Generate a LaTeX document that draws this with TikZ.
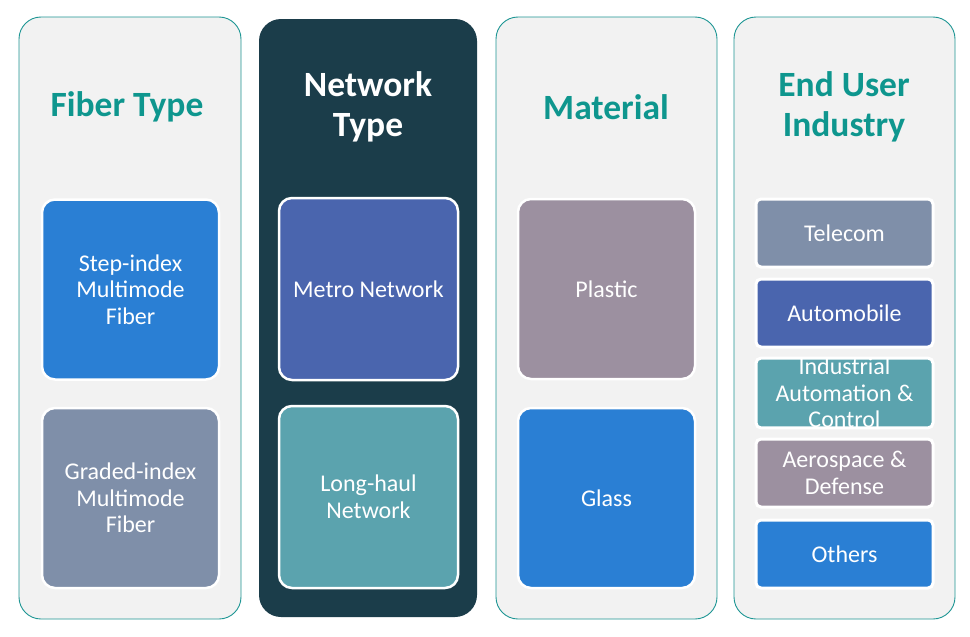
\documentclass[tikz,border=0pt]{standalone}
\usepackage{fontspec}
\setmainfont{Carlito}
\definecolor{panelbg}{RGB}{242,242,242}
\definecolor{panelline}{RGB}{30,150,148}
\definecolor{darkpanel}{RGB}{27,61,74}
\definecolor{titleteal}{RGB}{14,150,142}
\definecolor{cblue}{RGB}{42,127,212}
\definecolor{cgrey}{RGB}{127,143,169}
\definecolor{cindigo}{RGB}{74,101,174}
\definecolor{cteal}{RGB}{91,163,174}
\definecolor{cmauve}{RGB}{156,144,160}
\begin{document}
\begin{tikzpicture}[x=1pt,y=-1pt,
  panel/.style={draw=panelline, line width=0.9pt, fill=panelbg, rounded corners=22pt},
  darkp/.style={fill=darkpanel, rounded corners=22pt},
  title/.style={font=\fontsize{35.5}{39.5}\selectfont\bfseries, align=center, text=titleteal},
  box/.style={draw=white, line width=2.5pt, rounded corners=13pt, text=white, align=center,
    font=\fontsize{24}{26.5}\selectfont, inner sep=0pt, minimum width=177pt},
  bigbox/.style={box, minimum height=180pt},
  smallbox/.style={box, minimum height=68pt, rounded corners=5pt, line width=3pt}
]
\useasboundingbox (0,0) rectangle (970,637);
\fill[white] (0,0) rectangle (970,637);
% panels
\draw[panel] (19,17) rectangle (241,619);
\fill[darkp] (259,19) rectangle (477,617);
\draw[panel] (496,17) rectangle (717,619);
\draw[panel] (734,17) rectangle (955,619);
% titles
\node[title] (t1) at (127,107) {Fiber Type};
\node[title, text=white] (t2) at (368,107) {Network\\Type};
\node[title] (t3) at (606,107) {Material};
\node[title] (t4) at (844,107) {End User\\Industry};
% column 1
\node[bigbox, fill=cblue] (step) at (130.5,289.5) {Step-index\\Multimode\\Fiber};
\node[bigbox, fill=cgrey] (graded) at (130.5,498) {Graded-index\\Multimode\\Fiber};
% column 2
\node[bigbox, fill=cindigo, minimum width=179pt, minimum height=182pt] (metro) at (368.5,289) {Metro Network};
\node[bigbox, fill=cteal, minimum width=179pt, minimum height=182pt] (long) at (368.5,497) {Long-haul\\Network};
% column 3
\node[bigbox, fill=cmauve] (plastic) at (606.5,289) {Plastic};
\node[bigbox, fill=cblue] (glass) at (606.5,498) {Glass};
% column 4
\node[smallbox, fill=cgrey] (tele) at (844.5,233) {Telecom};
\node[smallbox, fill=cindigo] (auto) at (844.5,313) {Automobile};
\node[smallbox, fill=cteal] (ind) at (844.5,393) {Industrial\\Automation \&\\Control};
\node[smallbox, fill=cmauve] (aero) at (844.5,473) {Aerospace \&\\Defense};
\node[smallbox, fill=cblue] (others) at (844.5,554) {Others};
\end{tikzpicture}
\end{document}
